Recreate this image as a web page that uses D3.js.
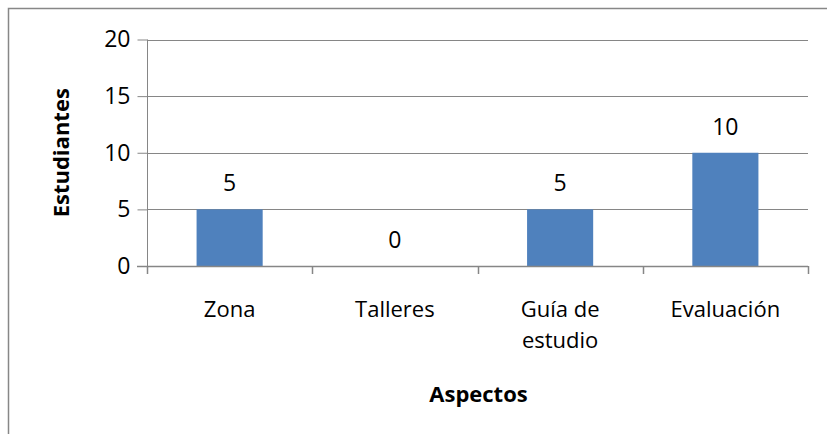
<!DOCTYPE html>
<html>
<head>
<meta charset="utf-8">
<script src="https://cdn.jsdelivr.net/npm/d3@7"></script>
<style>
  html, body { margin: 0; padding: 0; background: #fff; }
  svg { display: block; font-family: "Open Sans", "DejaVu Sans", sans-serif; }
</style>
</head>
<body>
<svg id="chart" width="827" height="434"></svg>
<script>
const categories = ["Zona", "Talleres", "Guía de estudio", "Evaluación"];
const categoryLines = [["Zona"], ["Talleres"], ["Guía de", "estudio"], ["Evaluación"]];
const values = [5, 0, 5, 10];
const yTicks = [0, 5, 10, 15, 20];
const yTitle = "Estudiantes";
const xTitle = "Aspectos";

const W = 827, H = 434;
const m = { left: 147, right: 19, top: 39.5, bottom: 168 };
const svg = d3.select("#chart");

// outer chart border
svg.append("rect")
  .attr("x", 8.5).attr("y", 8.5)
  .attr("width", W + 10).attr("height", H + 10)
  .attr("fill", "none").attr("stroke", "#878787").attr("stroke-width", 1.5);

const x = d3.scaleBand().domain(categories).range([m.left, W - m.right]).paddingInner(0.6).paddingOuter(0.3);
const xEdges = d3.scaleLinear().domain([0, categories.length]).range([m.left, W - m.right]);
const y = d3.scaleLinear().domain([0, 20]).range([H - m.bottom, m.top]);

const grid = "#868686";

// gridlines
svg.append("g").selectAll("line").data(yTicks.filter(d => d > 0)).join("line")
  .attr("x1", m.left).attr("x2", W - m.right)
  .attr("y1", d => Math.round(y(d)) + 0.5).attr("y2", d => Math.round(y(d)) + 0.5)
  .attr("stroke", grid).attr("stroke-width", 1);

// bars
svg.append("g").selectAll("rect").data(values).join("rect")
  .attr("x", (d, i) => x(categories[i]))
  .attr("width", x.bandwidth())
  .attr("y", d => y(d))
  .attr("height", d => y(0) - y(d))
  .attr("fill", "#4F81BD");

// y axis
const yAxis = svg.append("g").attr("transform", `translate(${m.left + 0.5},0)`)
  .call(d3.axisLeft(y).tickValues(yTicks).tickSize(10).tickPadding(7));
yAxis.select(".domain").attr("stroke", grid).attr("d", `M0,${y(20)}V${y(0)}`);
yAxis.selectAll(".tick line").attr("stroke", grid);
yAxis.selectAll(".tick text").attr("font-size", 23).attr("fill", "#000").attr("font-family", "Open Sans");

// x axis line and ticks
const xg = svg.append("g");
xg.append("line").attr("x1", m.left - 10).attr("x2", W - m.right)
  .attr("y1", Math.round(y(0)) + 0.5).attr("y2", Math.round(y(0)) + 0.5)
  .attr("stroke", grid).attr("stroke-width", 1.5);
xg.selectAll("line.t").data(d3.range(categories.length + 1)).join("line").attr("class", "t")
  .attr("x1", d => Math.round(xEdges(d)) + 0.5).attr("x2", d => Math.round(xEdges(d)) + 0.5)
  .attr("y1", y(0)).attr("y2", y(0) + 8)
  .attr("stroke", grid).attr("stroke-width", 1.5);

// category labels
const labels = xg.selectAll("text.c").data(categories).join("text").attr("class", "c")
  .attr("text-anchor", "middle").attr("font-size", 22).attr("fill", "#000")
  .attr("x", d => x(d) + x.bandwidth() / 2).attr("y", 317);
labels.each(function(d, i) {
  const t = d3.select(this);
  categoryLines[i].forEach((ln, k) => {
    t.append("tspan").attr("x", x(d) + x.bandwidth() / 2).attr("dy", k === 0 ? 0 : 31).text(ln);
  });
});

// value labels
svg.append("g").selectAll("text").data(values).join("text")
  .attr("x", (d, i) => x(categories[i]) + x.bandwidth() / 2)
  .attr("y", d => y(d) - 18)
  .attr("text-anchor", "middle").attr("font-size", 23).attr("fill", "#000")
  .text(d => d);

// axis titles
svg.append("text")
  .attr("transform", `translate(69,${(y(0) + y(20)) / 2}) rotate(-90)`)
  .attr("text-anchor", "middle").attr("font-size", 22).attr("font-weight", "bold").attr("fill", "#000")
  .text(yTitle);
svg.append("text")
  .attr("x", (m.left + W - m.right) / 2 + 1).attr("y", 402)
  .attr("text-anchor", "middle").attr("font-size", 22).attr("font-weight", "bold").attr("fill", "#000")
  .text(xTitle);
</script>
</body>
</html>
